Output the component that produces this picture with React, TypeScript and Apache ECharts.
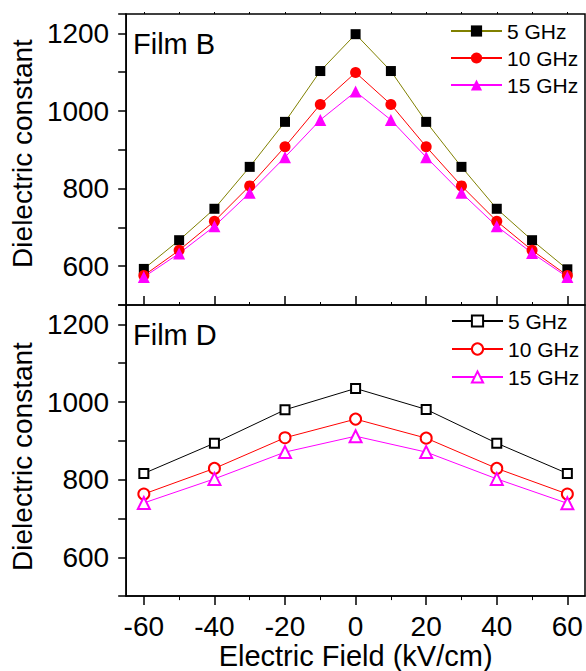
import React, { useEffect, useRef } from "react";
import * as echarts from "echarts";

const fieldB = [-60, -50, -40, -30, -20, -10, 0, 10, 20, 30, 40, 50, 60];
const filmB5 = [593, 667, 748, 856, 972, 1103, 1198, 1103, 972, 856, 748, 667, 592];
const filmB10 = [576, 641, 716, 807, 908, 1017, 1099, 1017, 908, 807, 716, 641, 576];
const filmB15 = [572, 633, 703, 789, 881, 977, 1050, 977, 881, 789, 703, 634, 572];

const fieldD = [-60, -40, -20, 0, 20, 40, 60];
const filmD5 = [816, 894, 980, 1035, 981, 894, 816];
const filmD10 = [763, 829, 908, 956, 907, 829, 763];
const filmD15 = [740, 802, 871, 912, 871, 802, 739];

const seriesNames = ["5 GHz", "10 GHz", "15 GHz"];
const xMajor = [-60, -40, -20, 0, 20, 40, 60];
const xMinor = [-50, -30, -10, 10, 30, 50];
const xAll = [-60, -50, -40, -30, -20, -10, 0, 10, 20, 30, 40, 50, 60];
const yLabels = [600, 800, 1000, 1200];

const FONT = "Liberation Sans, Arial, sans-serif";

function pairs(xs: number[], ys: number[]) {
  return xs.map((x, i) => [x, ys[i]]);
}

export default function App() {
  const ref = useRef<HTMLDivElement>(null);
  useEffect(() => {
    if (!ref.current) return;
    const chart = echarts.init(ref.current, undefined, { renderer: "svg" });
    const gridBox = {
      show: true,
      borderColor: "#000",
      borderWidth: 1.5,
      backgroundColor: "transparent",
      containLabel: false,
    };
    const noLine = { show: false, onZero: false };
    const solidLine = { show: true, onZero: false, lineStyle: { color: "#000", width: 1.5 } };
    const baseX = {
      type: "value",
      min: -65,
      max: 65,
      splitLine: { show: false },
      axisLine: noLine,
    };
    const baseY = {
      type: "value",
      min: 500,
      max: 1250,
      interval: 100,
      splitLine: { show: false },
      axisLine: solidLine,
      axisTick: {
        show: true,
        inside: false,
        length: 8,
        lineStyle: { color: "#000", width: 1.5 },
      },
      axisLabel: {
        show: true,
        showMinLabel: true,
        showMaxLabel: true,
        formatter: (v: number) => (yLabels.indexOf(v) >= 0 ? String(v) : ""),
        margin: 17,
        color: "#000",
        fontFamily: FONT,
        fontSize: 28,
      },
      name: "Dielectric constant",
      nameLocation: "middle",
      nameGap: 86,
    };
    const option: any = {
      animation: false,
      backgroundColor: "#fff",
      grid: [
        { ...gridBox, left: 124, top: 14, right: 1, height: 291 },
        { ...gridBox, left: 124, top: 305, right: 1, height: 292 },
      ],
      xAxis: [
        {
          ...baseX,
          gridIndex: 0,
          position: "bottom",
          axisTick: { show: true, inside: true, length: 9, lineStyle: { color: "#000", width: 1.5 }, customValues: xMajor },
          axisLabel: { show: false },
        },
        {
          ...baseX,
          gridIndex: 0,
          position: "bottom",
          axisTick: { show: true, inside: true, length: 3, lineStyle: { color: "#000", width: 1 }, customValues: xMinor },
          axisLabel: { show: false },
        },
        {
          ...baseX,
          gridIndex: 0,
          position: "top",
          axisTick: { show: true, inside: false, length: 2, lineStyle: { color: "#000", width: 1 }, customValues: xAll },
          axisLabel: { show: false },
        },
        {
          ...baseX,
          gridIndex: 1,
          position: "bottom",
          axisLine: solidLine,
          axisTick: { show: true, length: 9, lineStyle: { color: "#000", width: 1.5 }, customValues: xMajor },
          axisLabel: {
            show: true,
            customValues: xMajor,
            margin: 16,
            color: "#000",
            fontFamily: FONT,
            fontSize: 28,
          },
          name: "Electric Field (kV/cm)",
          nameLocation: "middle",
          nameGap: 43,
          nameTextStyle: { color: "#000", fontFamily: FONT, fontSize: 29 },
        },
        {
          ...baseX,
          gridIndex: 1,
          position: "bottom",
          axisTick: { show: true, length: 4, lineStyle: { color: "#000", width: 1 }, customValues: xMinor },
          axisLabel: { show: false },
        },
      ],
      yAxis: [
        {
          ...baseY,
          gridIndex: 0,
          position: "left",
          nameTextStyle: { color: "#000", fontFamily: FONT, fontSize: 28, padding: [0, 0, 0, 12] },
        },
        {
          ...baseY,
          gridIndex: 1,
          position: "left",
          nameTextStyle: { color: "#000", fontFamily: FONT, fontSize: 28, padding: [0, 12, 0, 0] },
        },
      ],
      legend: [
        {
          orient: "vertical",
          left: 445,
          top: 15,
          padding: 5,
          itemWidth: 51,
          itemHeight: 14,
          itemGap: 5,
          data: seriesNames,
          textStyle: { color: "#000", fontFamily: FONT, fontSize: 21, lineHeight: 22 },
        },
        {
          orient: "vertical",
          left: 446,
          top: 305,
          padding: 5,
          itemWidth: 51,
          itemHeight: 14,
          itemGap: 6,
          data: seriesNames.map((n) => "Film D " + n),
          formatter: (n: string) => n.replace("Film D ", ""),
          textStyle: { color: "#000", fontFamily: FONT, fontSize: 21, lineHeight: 22 },
        },
      ],
      graphic: [
        {
          type: "text",
          left: 133,
          top: 29,
          style: { text: "Film B", fill: "#000", font: "29px " + FONT },
        },
        {
          type: "text",
          left: 133,
          top: 320,
          style: { text: "Film D", fill: "#000", font: "29px " + FONT },
        },
      ],
      series: [
        {
          name: seriesNames[0],
          type: "line",
          xAxisIndex: 0,
          yAxisIndex: 0,
          data: pairs(fieldB, filmB5),
          symbol: "rect",
          symbolSize: 10,
          itemStyle: { color: "#000" },
          lineStyle: { color: "#808000", width: 1 },
        },
        {
          name: seriesNames[1],
          type: "line",
          xAxisIndex: 0,
          yAxisIndex: 0,
          data: pairs(fieldB, filmB10),
          symbol: "circle",
          symbolSize: 11,
          itemStyle: { color: "#ff0000" },
          lineStyle: { color: "#ff0000", width: 1 },
        },
        {
          name: seriesNames[2],
          type: "line",
          xAxisIndex: 0,
          yAxisIndex: 0,
          data: pairs(fieldB, filmB15),
          symbol: "triangle",
          symbolSize: 12,
          itemStyle: { color: "#ff00ff" },
          lineStyle: { color: "#ff00ff", width: 1 },
        },
        {
          name: "Film D " + seriesNames[0],
          type: "line",
          xAxisIndex: 3,
          yAxisIndex: 1,
          data: pairs(fieldD, filmD5),
          symbol: "emptyRect",
          symbolSize: 9,
          itemStyle: { color: "#000", borderWidth: 1 },
          lineStyle: { color: "#000", width: 1 },
        },
        {
          name: "Film D " + seriesNames[1],
          type: "line",
          xAxisIndex: 3,
          yAxisIndex: 1,
          data: pairs(fieldD, filmD10),
          symbol: "emptyCircle",
          symbolSize: 11,
          itemStyle: { color: "#ff0000", borderWidth: 1 },
          lineStyle: { color: "#ff0000", width: 1 },
        },
        {
          name: "Film D " + seriesNames[2],
          type: "line",
          xAxisIndex: 3,
          yAxisIndex: 1,
          data: pairs(fieldD, filmD15),
          symbol: "emptyTriangle",
          symbolSize: 12,
          itemStyle: { color: "#ff00ff", borderWidth: 1 },
          lineStyle: { color: "#ff00ff", width: 1 },
        },
      ],
    };
    chart.setOption(option);
    return () => chart.dispose();
  }, []);
  return (
    <div
      ref={ref}
      style={{ position: "fixed", left: 0, top: 0, width: 586, height: 671, background: "#fff" }}
    />
  );
}
